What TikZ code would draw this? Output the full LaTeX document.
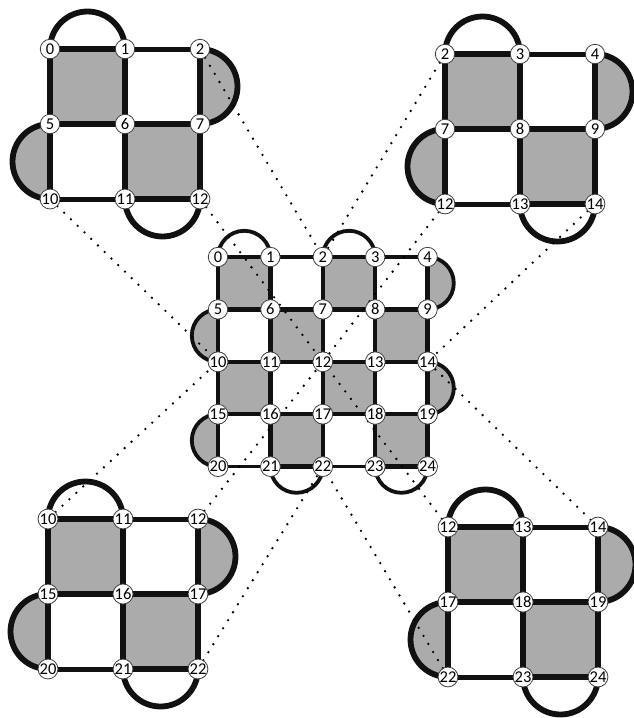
\documentclass[tikz,border=0pt]{standalone}
\usepackage{fontspec}
\setmainfont{Carlito}
\pgfdeclarelayer{back}
\pgfdeclarelayer{bg}
\pgfsetlayers{back,bg,main}
\definecolor{gfill}{HTML}{ABABAB}
\definecolor{ink}{HTML}{111111}
\tikzset{
  vtx/.style={circle, draw=black!75, line width=0.8pt, fill=white, minimum size=19.4pt, inner sep=0pt, font=\fontsize{16.5}{16.5}\selectfont},
  ethick/.style={draw=ink, line width=\gthick pt},
  ethin/.style={draw=ink, line width=\gthin pt},
  earc/.style={draw=ink, line width=\garc pt},
  dotline/.style={draw=black, line width=2.6pt, line cap=round, dash pattern=on 0pt off 9.4pt},
}
% #1 prefix, #2 x0, #3 y0, #4 n, #5 r0, #6 c0 ; uses \gs \gthick \gthin \garc
\newcommand\mygrid[6]{%
  \pgfmathtruncatemacro\gnm{#4-1}%
  \foreach \r in {0,...,#4}{\foreach \c in {0,...,#4}{%
    \pgfmathtruncatemacro\lab{5*(#5+\r)+#6+\c}%
    \node[vtx] (#1\lab) at ({#2+\c*\gs},{#3+\r*\gs}) {\lab};
  }}%
  \begin{pgfonlayer}{bg}
    % grey squares
    \foreach \r in {0,...,\gnm}{\foreach \c in {0,...,\gnm}{%
      \pgfmathtruncatemacro\pp{mod(\r+\c,2)}%
      \ifnum\pp=0 \fill[gfill] ({#2+\c*\gs},{#3+\r*\gs}) rectangle ++(\gs,\gs);\fi
    }}%
    % half disks and arcs
    \foreach \r in {0,...,\gnm}{%
      \pgfmathtruncatemacro\pp{mod(\r,2)}%
      \ifnum\pp=0
        \fill[gfill] ({#2+#4*\gs},{#3+\r*\gs}) arc(-90:90:\gs/2) -- cycle;
        \draw[earc] ({#2+#4*\gs},{#3+\r*\gs}) arc(-90:90:\gs/2);
      \else
        \fill[gfill] ({#2},{#3+\r*\gs}) arc(270:90:\gs/2) -- cycle;
        \draw[earc] ({#2},{#3+\r*\gs}) arc(270:90:\gs/2);
      \fi
    }%
    \foreach \c in {0,...,\gnm}{%
      \pgfmathtruncatemacro\pp{mod(\c,2)}%
      \ifnum\pp=0
        \draw[earc] ({#2+\c*\gs},{#3}) arc(180:360:\gs/2);
      \else
        \draw[earc] ({#2+\c*\gs},{#3+#4*\gs}) arc(180:0:\gs/2);
      \fi
    }%
    % horizontal edges
    \foreach \r in {0,...,#4}{\foreach \c in {0,...,\gnm}{%
      \pgfmathtruncatemacro\la{5*(#5+\r)+#6+\c}%
      \pgfmathtruncatemacro\lb{\la+1}%
      \pgfmathtruncatemacro\isthin{and(\r==0,mod(\c,2)==1)+and(\r==#4,mod(\c,2)==0)}%
      \ifnum\isthin>0 \draw[ethin] (#1\la.center) -- (#1\lb.center);
      \else \draw[ethick] (#1\la.center) -- (#1\lb.center);\fi
    }}%
    % vertical edges
    \foreach \r in {0,...,\gnm}{\foreach \c in {0,...,#4}{%
      \pgfmathtruncatemacro\la{5*(#5+\r)+#6+\c}%
      \pgfmathtruncatemacro\lb{\la+5}%
      \draw[ethick] (#1\la.center) -- (#1\lb.center);
    }}%
  \end{pgfonlayer}
}
\begin{document}
\begin{tikzpicture}[x=1pt,y=-1pt]
\begin{pgfonlayer}{back}
\fill[white] (0,0) rectangle (633,718);
\end{pgfonlayer}
\useasboundingbox (0,0) rectangle (633,718);
% corner grids
\def\gs{75}\def\gthick{6.6}\def\gthin{5}\def\garc{5.8}
\mygrid{tl}{50}{49}{2}{0}{0}
\mygrid{tr}{445}{54}{2}{0}{2}
\mygrid{bl}{48}{519}{2}{2}{0}
\mygrid{br}{448}{527}{2}{2}{2}
% centre grid
\def\gs{52.4}\def\gthick{4.4}\def\gthin{3.3}\def\garc{3.8}
\mygrid{c}{218}{257}{4}{0}{0}
% dotted correspondences
\begin{pgfonlayer}{bg}
\draw[dotline] (tl2) -- (c2);
\draw[dotline] (tl10) -- (c10);
\draw[dotline] (tl12) -- (c12);
\draw[dotline] (tr2) -- (c2);
\draw[dotline] (tr12) -- (c12);
\draw[dotline] (tr14) -- (c14);
\draw[dotline] (bl10) -- (c10);
\draw[dotline] (bl12) -- (c12);
\draw[dotline] (bl22) -- (c22);
\draw[dotline] (br12) -- (c12);
\draw[dotline] (br14) -- (c14);
\draw[dotline] (br22) -- (c22);
\end{pgfonlayer}
\end{tikzpicture}
\end{document}
